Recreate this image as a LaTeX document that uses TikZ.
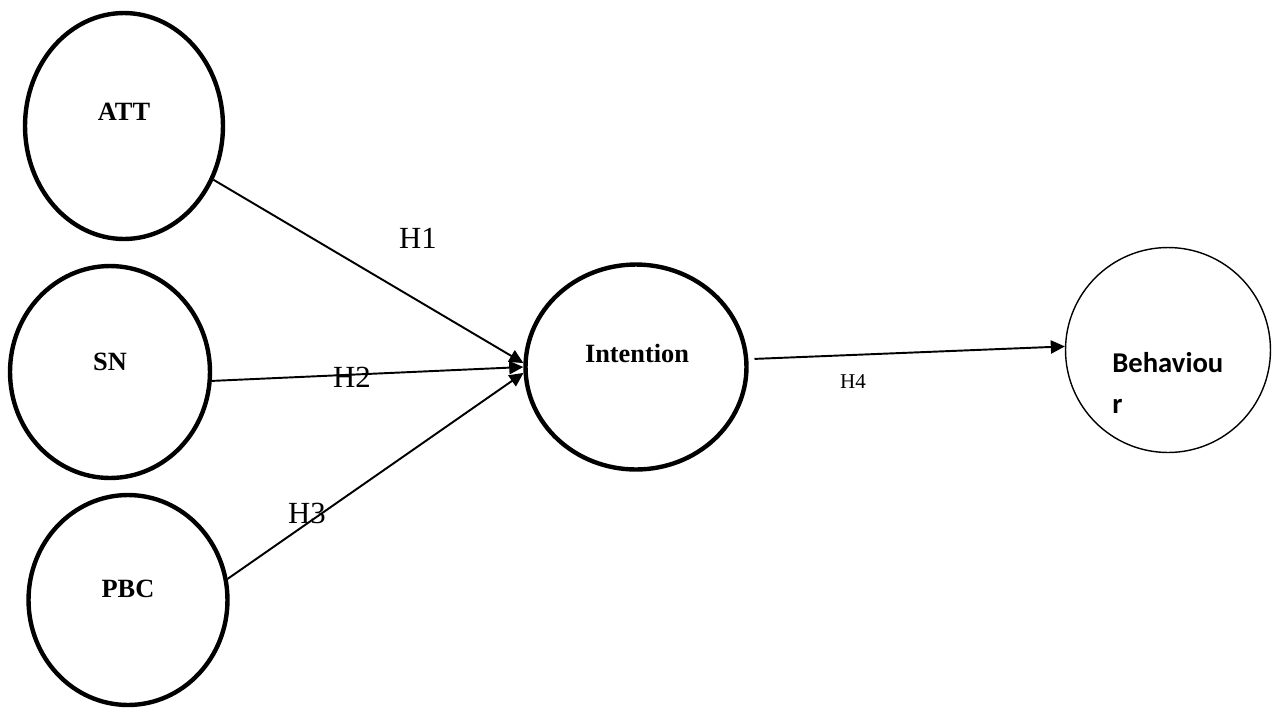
\documentclass[tikz,border=0pt]{standalone}
\usepackage{fontspec}
\setmainfont{Liberation Serif}
\newfontfamily\calibrifont{Carlito}
\usetikzlibrary{arrows.meta,shapes.geometric}

\tikzset{
  construct/.style={draw,ellipse,line width=2.5pt,inner sep=0pt},
  outcome/.style={draw,ellipse,line width=0.8pt,inner sep=0pt},
  hpath/.style={line width=1.1pt,-{Triangle[length=8pt,width=7.5pt]}},
  hyp/.style={font=\fontsize{17.5}{20}\selectfont},
  cname/.style={font=\fontsize{15}{18}\selectfont\bfseries}
}

\begin{document}
\begin{tikzpicture}[x=0.02cm,y=-0.02cm]
\useasboundingbox (0,0) rectangle (1272,708);

% Constructs
\node[construct,minimum width=3.96cm,minimum height=4.52cm] (att) at (124,126) {};
\node[construct,minimum width=4.0cm,minimum height=4.24cm] (sn) at (110,372) {};
\node[construct,minimum width=3.98cm,minimum height=4.2cm] (pbc) at (128,600) {};
\node[construct,minimum width=4.42cm,minimum height=4.1cm] (intent) at (636,367) {};
\node[outcome,minimum width=4.1cm,minimum height=4.1cm] (beh) at (1168,350) {};

% Construct names
\node[cname] (attlbl) at (124,112) {ATT};
\node[cname] (snlbl) at (110,362) {SN};
\node[cname] (pbclbl) at (128,589) {PBC};
\node[cname] (intlbl) at (637,353) {Intention};
\node[font=\calibrifont\bfseries\fontsize{16.3}{23}\selectfont,align=left,anchor=west,inner sep=0pt] (behlbl) at (1112,383) {Behaviou\\r};

% Paths
\draw[hpath] (att.-31) -- (intent.178);
\draw[hpath] (sn.-5) -- (intent.180);
\draw[hpath] (pbc.12) -- (intent.183);
\draw[hpath,shorten <=3.5pt] (intent.4) -- (beh.178);

% Hypotheses
\node[hyp] (h1) at (418,238) {H1};
\node[hyp] (h2) at (352,377) {H2};
\node[hyp] (h3) at (307,513) {H3};
\node[font=\fontsize{12}{14}\selectfont] (h4) at (853,382) {H4};
\end{tikzpicture}
\end{document}
